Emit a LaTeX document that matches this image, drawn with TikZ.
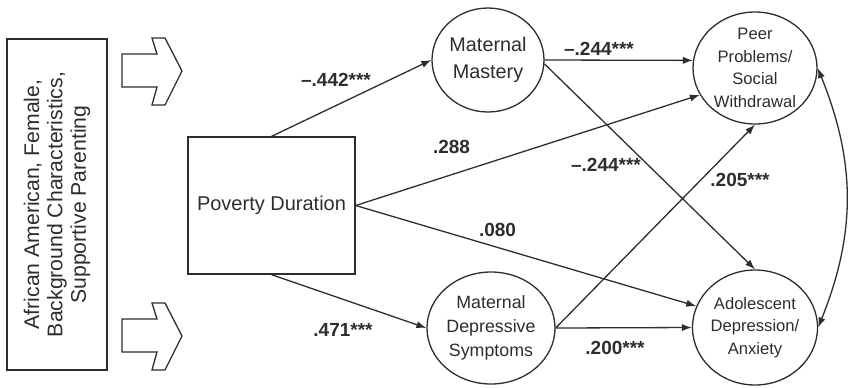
\documentclass[tikz,border=0pt]{standalone}
\usepackage{fontspec}
\setmainfont{Liberation Sans}
\usetikzlibrary{shapes.geometric,arrows.meta}
\definecolor{ink}{RGB}{45,45,45}

\begin{document}
\begin{tikzpicture}[x=0.5pt,y=-0.5pt,->,>={Latex[length=5pt,width=3.6pt]},line width=0.65pt,color=ink,
    box node/.style={draw,rectangle,inner sep=0pt,align=center},
    var node/.style={draw,ellipse,inner sep=-4pt,align=center},
    coef/.style={font=\bfseries\fontsize{9.5}{11}\selectfont}]
                \useasboundingbox (0,0) rectangle (849,387);

                \node[box node,rotate=90,minimum width=165.5pt,minimum height=50pt,font=\fontsize{10.6}{11.7}\selectfont] (bg) at (57,204.5) {African American, Female,\\Background Characteristics,\\Supportive Parenting};
                \node[box node,minimum width=83.5pt,minimum height=68.5pt,font=\fontsize{10}{12}\selectfont] (pov) at (271.5,205.5) {Poverty Duration};
                \node[var node,minimum width=56pt,minimum height=52pt,font=\fontsize{9.9}{13.5}\selectfont] (mast) at (488,60) {Maternal\\Mastery};
                \node[var node,minimum width=64pt,minimum height=56pt,font=\fontsize{8.9}{12}\selectfont] (mds) at (491,328) {Maternal\\Depressive\\Symptoms};
                \node[var node,minimum width=62pt,minimum height=56pt,font=\fontsize{8.3}{11.25}\selectfont] (peer) at (755,68) {Peer\\Problems/\\Social\\Withdrawal};
                \node[var node,minimum width=62.5pt,minimum height=57.5pt,font=\fontsize{8.3}{11.25}\selectfont] (adol) at (755,327.5) {Adolescent\\Depression/\\Anxiety};

                \foreach \dy in {0,265}
                    \draw[-,shift={(0,\dy)}] (122,54) -- (157,54) -- (152,38) -- (165,38) -- (182,71) -- (165,105) -- (152,105) -- (157,87) -- (122,87) -- cycle;

                \draw (pov.north) -- (mast.west);
                \draw (pov.east) -- (peer.206);
                \draw (pov.east) -- (adol.160);
                \draw (pov.south) -- (mds.west);
                \draw (mast.east) -- (peer.173);
                \draw (mast.-4) -- (adol.north);
                \draw (mds.east) -- (peer.south);
                \draw (mds.east) -- (adol.west);
                \draw[<->] (peer.east) to[bend left=22] (adol.east);

                \node[coef] (c1) at (336,80) {\textendash.442***};
                \node[coef] (c2) at (451.5,147) {.288};
                \node[coef] (c3) at (497.5,230) {.080};
                \node[coef] (c4) at (343,330) {.471***};
                \node[coef] (c5) at (599,49) {\textendash.244***};
                \node[coef] (c6) at (606,165) {\textendash.244***};
                \node[coef] (c7) at (740,180) {.205***};
                \node[coef] (c8) at (615,348) {.200***};
\end{tikzpicture}
\end{document}
